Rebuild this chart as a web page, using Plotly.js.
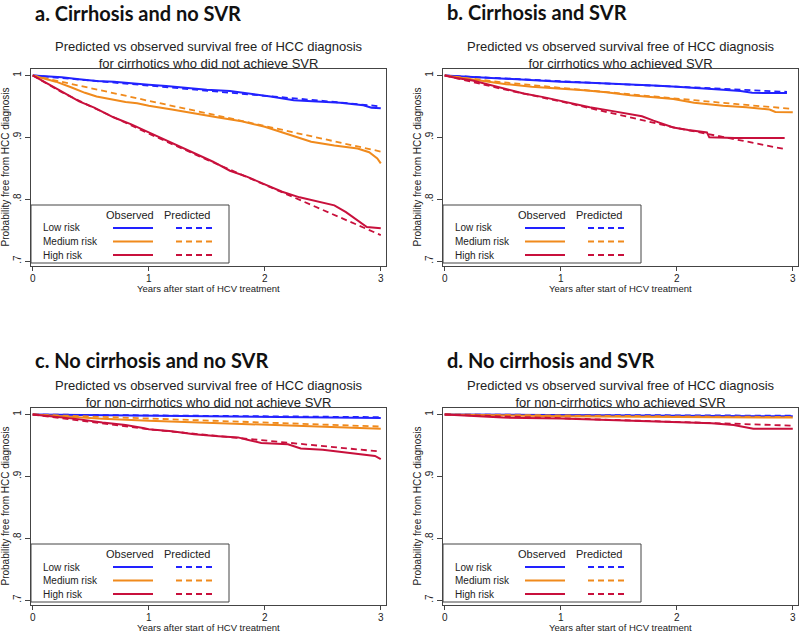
<!DOCTYPE html>
<html>
<head>
<meta charset="utf-8">
<script src="https://cdn.plot.ly/plotly-3.0.1.min.js"></script>
<style>body{margin:0;background:#fff}</style>
</head>
<body>
<div id="chart" style="width:800px;height:633px"></div>
<script>
// a. cirrhosis, no SVR
var aLowObsT  = [0, 0.1, 0.25, 0.4, 0.55, 0.7, 0.85, 1.0, 1.15, 1.3, 1.5, 1.7, 1.9, 2.05, 2.25, 2.45, 2.65, 2.85, 2.92, 3.0];
var aLowObsY  = [1, 0.999, 0.997, 0.994, 0.991, 0.990, 0.987, 0.985, 0.983, 0.980, 0.977, 0.975, 0.970, 0.966, 0.960, 0.958, 0.956, 0.952, 0.948, 0.947];
var aLowPredT = [0, 0.5, 1, 1.5, 2, 2.5, 3];
var aLowPredY = [1, 0.992, 0.984, 0.976, 0.967, 0.959, 0.950];
var aMedObsT  = [0, 0.1, 0.2, 0.33, 0.45, 0.55, 0.7, 0.8, 0.9, 1.0, 1.2, 1.4, 1.6, 1.8, 2.0, 2.2, 2.4, 2.6, 2.8, 2.9, 2.97, 3.0];
var aMedObsY  = [1, 0.995, 0.99, 0.981, 0.972, 0.966, 0.961, 0.957, 0.955, 0.951, 0.945, 0.938, 0.932, 0.926, 0.917, 0.905, 0.893, 0.887, 0.882, 0.876, 0.866, 0.858];
var aMedPredT = [0, 0.5, 1, 1.5, 2, 2.5, 3];
var aMedPredY = [1, 0.979, 0.959, 0.939, 0.918, 0.897, 0.877];
var aHighObsT = [0, 0.1, 0.24, 0.4, 0.53, 0.7, 0.85, 1.0, 1.2, 1.4, 1.55, 1.7, 1.85, 2.0, 2.15, 2.3, 2.45, 2.6, 2.7, 2.8, 2.88, 3.0];
var aHighObsY = [1, 0.99, 0.975, 0.958, 0.948, 0.932, 0.921, 0.908, 0.891, 0.873, 0.861, 0.846, 0.836, 0.824, 0.812, 0.803, 0.797, 0.790, 0.779, 0.766, 0.755, 0.753];
var aHighPredT = [0, 0.25, 0.5, 1, 1.5, 2, 2.5, 3];
var aHighPredY = [1, 0.973, 0.950, 0.906, 0.864, 0.823, 0.783, 0.742];

// b. cirrhosis, SVR
var bLowObsT  = [0, 0.2, 0.4, 0.53, 0.75, 1.0, 1.3, 1.62, 1.8, 2.0, 2.2, 2.4, 2.55, 2.65, 2.95];
var bLowObsY  = [1, 0.998, 0.996, 0.994, 0.992, 0.990, 0.988, 0.986, 0.984, 0.982, 0.979, 0.977, 0.975, 0.972, 0.9715];
var bLowPredT = [0, 0.5, 1, 1.5, 2, 2.5, 2.95];
var bLowPredY = [1, 0.995, 0.991, 0.986, 0.982, 0.978, 0.9735];
var bMedObsT  = [0, 0.15, 0.33, 0.53, 0.75, 1.0, 1.2, 1.39, 1.6, 1.8, 1.97, 2.15, 2.4, 2.6, 2.8, 2.85, 3.0];
var bMedObsY  = [1, 0.996, 0.992, 0.986, 0.982, 0.978, 0.976, 0.973, 0.968, 0.965, 0.962, 0.956, 0.951, 0.9485, 0.945, 0.941, 0.9405];
var bMedPredT = [0, 0.5, 1, 1.5, 2, 2.5, 3];
var bMedPredY = [1, 0.989, 0.980, 0.971, 0.963, 0.954, 0.946];
var bHighObsT = [0, 0.1, 0.24, 0.39, 0.55, 0.68, 0.85, 1.0, 1.15, 1.25, 1.4, 1.57, 1.7, 1.8, 1.9, 1.97, 2.1, 2.26, 2.28, 2.5, 2.93];
var bHighObsY = [1, 0.996, 0.992, 0.985, 0.977, 0.971, 0.965, 0.959, 0.953, 0.9485, 0.944, 0.938, 0.934, 0.927, 0.921, 0.916, 0.912, 0.908, 0.900, 0.899, 0.899];
var bHighPredT = [0, 0.5, 1, 1.5, 2, 2.5, 2.93];
var bHighPredY = [1, 0.978, 0.958, 0.937, 0.915, 0.897, 0.881];

// c. no cirrhosis, no SVR
var cLowObsT  = [0, 0.5, 1, 1.5, 2, 2.5, 3];
var cLowObsY  = [1, 0.999, 0.998, 0.997, 0.996, 0.995, 0.9945];
var cLowPredT = [0, 1, 2, 3];
var cLowPredY = [1, 0.9985, 0.997, 0.9957];
var cMedObsT  = [0, 0.3, 0.6, 1, 1.5, 2, 2.5, 3];
var cMedObsY  = [1, 0.996, 0.993, 0.990, 0.987, 0.984, 0.980, 0.977];
var cMedPredT = [0, 1, 2, 3];
var cMedPredY = [1, 0.9935, 0.987, 0.9805];
var cHighObsT = [0, 0.2, 0.39, 0.6, 0.8, 0.95, 1.0, 1.2, 1.39, 1.6, 1.77, 1.85, 1.97, 2.2, 2.31, 2.5, 2.69, 2.95, 3.0];
var cHighObsY = [1, 0.996, 0.9925, 0.987, 0.983, 0.978, 0.976, 0.973, 0.968, 0.965, 0.963, 0.959, 0.954, 0.952, 0.945, 0.943, 0.939, 0.933, 0.928];
var cHighPredT = [0, 0.5, 1, 1.5, 2, 2.5, 3];
var cHighPredY = [1, 0.988, 0.976, 0.967, 0.958, 0.949, 0.940];

// d. no cirrhosis, SVR
var dLowObsT  = [0, 1, 2, 3];
var dLowObsY  = [1, 0.9985, 0.998, 0.997];
var dLowPredT = [0, 1, 2, 3];
var dLowPredY = [1, 0.9992, 0.9985, 0.998];
var dMedObsT  = [0, 1, 2, 3];
var dMedObsY  = [1, 0.997, 0.996, 0.995];
var dMedPredT = [0, 1, 2, 3];
var dMedPredY = [1, 0.998, 0.997, 0.996];
var dHighObsT = [0, 0.5, 1.0, 1.5, 2.0, 2.3, 2.49, 2.66, 3.0];
var dHighObsY = [1, 0.995, 0.9935, 0.991, 0.988, 0.986, 0.983, 0.977, 0.977];
var dHighPredT = [0, 1, 2, 3];
var dHighPredY = [1, 0.994, 0.988, 0.982];

var riskLabels = ['Low risk', 'Medium risk', 'High risk'];
var riskColors = ['#2222ff', '#f08a1c', '#c8103c'];
var xTicks = [0, 1, 2, 3];
var yTicks = [0.7, 0.8, 0.9, 1];
var yTickText = ['.7', '.8', '.9', '1'];
var subLine1 = 'Predicted vs observed survival free of HCC diagnosis';

var W = 800, H = 633;
var pw = 355, ph = 197;
var panels = [
  {id: '', left: 31, top: 69, headY: 13, heading: 'a. Cirrhosis and no SVR',
   sub2: 'for cirrhotics who did not achieve SVR',
   obs: [[aLowObsT, aLowObsY], [aMedObsT, aMedObsY], [aHighObsT, aHighObsY]],
   pred: [[aLowPredT, aLowPredY], [aMedPredT, aMedPredY], [aHighPredT, aHighPredY]]},
  {id: '2', left: 443, top: 69, headY: 12, heading: 'b. Cirrhosis and SVR',
   sub2: 'for cirrhotics who achieved SVR',
   obs: [[bLowObsT, bLowObsY], [bMedObsT, bMedObsY], [bHighObsT, bHighObsY]],
   pred: [[bLowPredT, bLowPredY], [bMedPredT, bMedPredY], [bHighPredT, bHighPredY]]},
  {id: '3', left: 31, top: 408, headY: 360, heading: 'c. No cirrhosis and no SVR',
   sub2: 'for non-cirrhotics who did not achieve SVR',
   obs: [[cLowObsT, cLowObsY], [cMedObsT, cMedObsY], [cHighObsT, cHighObsY]],
   pred: [[cLowPredT, cLowPredY], [cMedPredT, cMedPredY], [cHighPredT, cHighPredY]]},
  {id: '4', left: 443, top: 408, headY: 360, heading: 'd. No cirrhosis and SVR',
   sub2: 'for non-cirrhotics who achieved SVR',
   obs: [[dLowObsT, dLowObsY], [dMedObsT, dMedObsY], [dHighObsT, dHighObsY]],
   pred: [[dLowPredT, dLowPredY], [dMedPredT, dMedPredY], [dHighPredT, dHighPredY]]}
];

function px(x) { return x / W; }
function py(y) { return 1 - y / H; }

var font = 'Liberation Sans, Arial, sans-serif';
var traces = [];
var shapes = [];
var annotations = [];
var layout = {
  width: W, height: H,
  margin: {l: 0, r: 0, t: 0, b: 0},
  paper_bgcolor: '#fff', plot_bgcolor: '#fff',
  showlegend: false,
  font: {family: font, color: '#222', size: 10}
};

function label(x, y, text, size, opts) {
  var a = {xref: 'paper', yref: 'paper', x: px(x), y: py(y), xanchor: 'center', yanchor: 'middle',
    showarrow: false, text: text, font: {family: font, size: size, color: '#222'}};
  for (var k in (opts || {})) a[k] = opts[k];
  annotations.push(a);
}

panels.forEach(function (p) {
  var xa = 'x' + p.id, ya = 'y' + p.id;
  for (var i = 0; i < 3; i++) {
    traces.push({x: p.obs[i][0], y: p.obs[i][1], xaxis: xa, yaxis: ya, mode: 'lines',
      line: {color: riskColors[i], width: 2}, name: riskLabels[i] + ' observed'});
    traces.push({x: p.pred[i][0], y: p.pred[i][1], xaxis: xa, yaxis: ya, mode: 'lines',
      line: {color: riskColors[i], width: 1.8, dash: '6px,4px'}, name: riskLabels[i] + ' predicted'});
  }
  layout['xaxis' + p.id] = {
    domain: [px(p.left), px(p.left + pw)], anchor: ya, range: [-0.015, 3.045],
    tickvals: xTicks, ticks: 'outside', ticklen: 4, tickcolor: '#444', ticklabelstandoff: -1,
    showline: true, mirror: true, linecolor: '#444', linewidth: 1,
    showgrid: false, zeroline: false, tickfont: {size: 10, color: '#222'}
  };
  layout['yaxis' + p.id] = {
    domain: [py(p.top + ph), py(p.top)], anchor: xa, range: [0.692, 1.0105],
    tickvals: yTicks, ticktext: yTickText, tickangle: -90, ticks: 'outside', ticklen: 5, tickcolor: '#444',
    showline: true, mirror: true, linecolor: '#444', linewidth: 1,
    showgrid: false, zeroline: false, tickfont: {size: 10, color: '#222'}
  };

  label(p.left + 2, p.headY, '<b>' + p.heading + '</b>', 20,
    {xanchor: 'left', font: {family: 'Lato, sans-serif', size: 20, color: '#111'}});
  label(p.left + pw / 2, p.top - 14, subLine1 + '<br>' + p.sub2, 13);
  label(p.left + pw / 2, p.top + ph + 22, 'Years after start of HCV treatment', 9.5);
  label(p.left - 26, p.top + ph / 2, 'Probability free from HCC diagnosis', 10, {textangle: -90});

  // legend box (bottom-left, inside plot)
  shapes.push({type: 'rect', xref: 'paper', yref: 'paper',
    x0: px(p.left), x1: px(p.left + 198), y0: py(p.top + 194), y1: py(p.top + 136),
    line: {color: '#444', width: 1}, fillcolor: '#fff'});
  label(p.left + 99, p.top + 146, 'Observed', 11);
  label(p.left + 156, p.top + 146, 'Predicted', 11);
  for (var j = 0; j < 3; j++) {
    var ry = p.top + 159 + j * 13.5;
    label(p.left + 10, ry, riskLabels[j], 10, {xanchor: 'left'});
    shapes.push({type: 'line', xref: 'paper', yref: 'paper', x0: px(p.left + 82), x1: px(p.left + 122),
      y0: py(ry), y1: py(ry), line: {color: riskColors[j], width: 2}});
    shapes.push({type: 'line', xref: 'paper', yref: 'paper', x0: px(p.left + 145), x1: px(p.left + 185),
      y0: py(ry), y1: py(ry), line: {color: riskColors[j], width: 1.8, dash: '6px,4px'}});
  }
});

layout.shapes = shapes;
layout.annotations = annotations;

Plotly.newPlot('chart', traces, layout, {displayModeBar: false, staticPlot: true});
</script>
</body>
</html>
